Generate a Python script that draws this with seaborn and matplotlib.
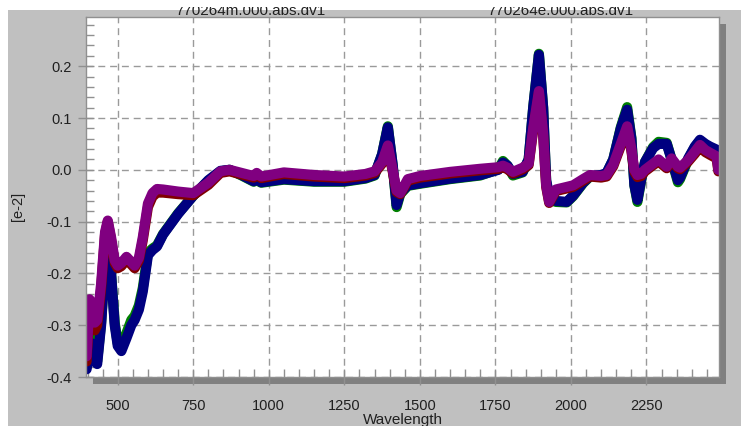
import seaborn as sns
import matplotlib.pyplot as plt
import pandas as pd
from matplotlib.patches import Rectangle
from matplotlib.ticker import MultipleLocator

# wavelength grid (nm) and the four absorbance spectra ([e-2])
wavelength = [397, 407, 414, 424, 432, 445, 458, 467, 478, 490, 500, 512, 529, 545, 556,
              570, 583, 600, 615, 630, 650, 700, 750, 800, 840, 870, 910, 950, 960, 975,
              1050, 1150, 1250, 1320, 1350, 1375, 1394, 1410, 1423, 1435, 1460, 1500, 1600,
              1700, 1760, 1775, 1790, 1808, 1840, 1860, 1875, 1894, 1908, 1918, 1928, 1950,
              1986, 2007, 2040, 2063, 2100, 2118, 2140, 2165, 2186, 2200, 2210, 2220, 2232,
              2245, 2272, 2290, 2317, 2333, 2354, 2361, 2388, 2410, 2427, 2445, 2460, 2482, 2488]

green = [-0.38, -0.34, -0.325, -0.36, -0.37, -0.295, -0.18, -0.142, -0.2, -0.295, -0.335, -0.345,
         -0.315, -0.29, -0.282, -0.262, -0.228, -0.16, -0.152, -0.146, -0.124, -0.084, -0.05,
         -0.021, -0.003, 0.0, -0.011, -0.023, -0.02, -0.025, -0.019, -0.023, -0.023, -0.017,
         -0.011, 0.03, 0.084, 0.008, -0.072, -0.047, -0.031, -0.027, -0.018, -0.011, 0.001,
         0.017, 0.008, -0.011, -0.005, 0.02, 0.12, 0.224, 0.12, -0.022, -0.056, -0.062,
         -0.063, -0.051, -0.026, -0.013, -0.011, -0.007, 0.02, 0.082, 0.121, 0.062, -0.03,
         -0.062, -0.022, 0.015, 0.044, 0.054, 0.052, 0.02, -0.024, -0.018, 0.02, 0.044, 0.056,
         0.048, 0.043, 0.037, 0.028]

navy = [-0.385, -0.35, -0.335, -0.37, -0.375, -0.3, -0.18, -0.14, -0.2, -0.3, -0.34, -0.35,
        -0.325, -0.3, -0.29, -0.27, -0.235, -0.165, -0.155, -0.148, -0.125, -0.085, -0.05,
        -0.02, -0.002, 0.0, -0.01, -0.022, -0.018, -0.024, -0.018, -0.022, -0.022, -0.016,
        -0.01, 0.03, 0.082, 0.01, -0.068, -0.045, -0.03, -0.026, -0.017, -0.01, 0.0,
        0.014, 0.008, -0.008, -0.004, 0.02, 0.12, 0.222, 0.12, -0.02, -0.05, -0.06,
        -0.062, -0.05, -0.025, -0.012, -0.01, -0.006, 0.02, 0.08, 0.116, 0.06, -0.03,
        -0.058, -0.02, 0.015, 0.042, 0.05, 0.05, 0.02, -0.02, -0.015, 0.022, 0.045, 0.058,
        0.05, 0.045, 0.039, 0.03]

darkred = [-0.37, -0.26, -0.27, -0.31, -0.3, -0.23, -0.125, -0.1, -0.135, -0.18, -0.19, -0.186,
           -0.173, -0.183, -0.19, -0.175, -0.136, -0.072, -0.052, -0.044, -0.044, -0.047, -0.049,
           -0.029, -0.006, -0.003, -0.009, -0.015, -0.009, -0.016, -0.008, -0.013, -0.016, -0.011,
           -0.006, 0.012, 0.043, -0.003, -0.043, -0.047, -0.021, -0.015, -0.007, -0.001, 0.002,
           0.005, 0.001, -0.007, 0.001, 0.009, 0.076, 0.148, 0.066, -0.033, -0.064, -0.041,
           -0.036, -0.033, -0.021, -0.013, -0.015, -0.013, 0.007, 0.046, 0.08, 0.036, -0.004,
           -0.014, -0.012, -0.003, 0.009, 0.016, 0.003, 0.019, 0.003, 0.001, 0.016, 0.031, 0.044,
           0.034, 0.029, 0.022, -0.003]

purple = [-0.36, -0.25, -0.26, -0.295, -0.29, -0.22, -0.12, -0.098, -0.13, -0.175, -0.185, -0.18,
          -0.168, -0.178, -0.185, -0.17, -0.13, -0.065, -0.045, -0.037, -0.038, -0.042, -0.045,
          -0.025, -0.003, 0.0, -0.006, -0.012, -0.006, -0.013, -0.005, -0.01, -0.013, -0.008,
          -0.003, 0.015, 0.047, 0.0, -0.04, -0.045, -0.018, -0.012, -0.004, 0.002, 0.005,
          0.008, 0.004, -0.004, 0.004, 0.012, 0.08, 0.152, 0.07, -0.03, -0.062, -0.038,
          -0.033, -0.03, -0.018, -0.01, -0.012, -0.01, 0.01, 0.05, 0.084, 0.04, 0.0,
          -0.01, -0.008, 0.0, 0.012, 0.02, 0.006, 0.022, 0.006, 0.004, 0.019, 0.035, 0.048,
          0.038, 0.033, 0.026, 0.0]

series_names = ["s1", "s2", "s3", "s4"]
series_colors = ["#008000", "#000080", "#800000", "#800080"]

df = pd.concat([
    pd.DataFrame({"Wavelength": wavelength, "value": vals, "series": name})
    for name, vals in zip(series_names, [green, navy, darkred, purple])
])

plt.rcParams["font.family"] = ["Liberation Sans", "DejaVu Sans"]

fig = plt.figure(figsize=(7.41, 4.26), dpi=100)
W, H = 741, 426

# grey panel background and drop shadow of the plot frame
fig.patches.append(Rectangle((8 / W, 0), (W - 8) / W, (H - 10) / H, transform=fig.transFigure,
                             facecolor="#c0c0c0", edgecolor="none", zorder=-2))
fig.patches.append(Rectangle((93 / W, 42 / H), 633 / W, 360 / H, transform=fig.transFigure,
                             facecolor="#808080", edgecolor="none", zorder=-1))

ax = fig.add_axes([86 / W, 49 / H, 633 / W, 360 / H])
ax.set_facecolor("white")

sns.lineplot(data=df, x="Wavelength", y="value", hue="series", hue_order=series_names,
             palette=series_colors, linewidth=7.3, legend=False, ax=ax, estimator=None)
for line in ax.get_lines():
    line.set_solid_capstyle("round")
    line.set_solid_joinstyle("round")

ax.set_xlim(395, 2490)
ax.set_ylim(-0.4, 0.295)
ax.xaxis.set_major_locator(MultipleLocator(250))
ax.xaxis.set_minor_locator(MultipleLocator(50))
ax.yaxis.set_major_locator(MultipleLocator(0.1))
ax.yaxis.set_minor_locator(MultipleLocator(0.02))
ax.set_xticks([500, 750, 1000, 1250, 1500, 1750, 2000, 2250])
ax.set_yticks([-0.4, -0.3, -0.2, -0.1, 0.0, 0.1, 0.2])
ax.set_yticklabels(["-0.4", "-0.3", "-0.2", "-0.1", "0.0", "0.1", "0.2"])

ax.grid(True, which="major", color="#9a9a9a", linestyle=(0, (5, 3.5)), linewidth=1)
ax.set_axisbelow(True)
ax.tick_params(which="major", direction="inout", length=11, width=1, color="#909090",
               labelsize=10.5, colors="#202020")
ax.tick_params(which="major", axis="x", pad=10)
ax.tick_params(which="major", axis="y", pad=5)
ax.tick_params(which="minor", direction="in", length=5.5, width=1, color="#909090")
for sp in ax.spines.values():
    sp.set_color("#909090")
    sp.set_linewidth(1)

ax.set_xlabel("Wavelength", fontsize=11, color="#202020")
ax.xaxis.set_label_coords(0.5, -0.1)
ax.set_ylabel("[e-2]", fontsize=10.5, color="#202020")
ax.yaxis.set_label_coords(-0.097, 0.475)

# file names above the plot, partly cut by the window edge
fig.text(250 / W, 1 - 15 / H, "770264m.000.abs.dv1", ha="center", va="baseline",
         fontsize=11, color="#202020")
fig.text(560 / W, 1 - 15 / H, "770264e.000.abs.dv1", ha="center", va="baseline",
         fontsize=11, color="#202020")
fig.patches.append(Rectangle((0, 1 - 7 / H), 1, 7 / H, transform=fig.transFigure,
                             facecolor="white", edgecolor="none", zorder=10))

fig.savefig("out.png", dpi=100)
